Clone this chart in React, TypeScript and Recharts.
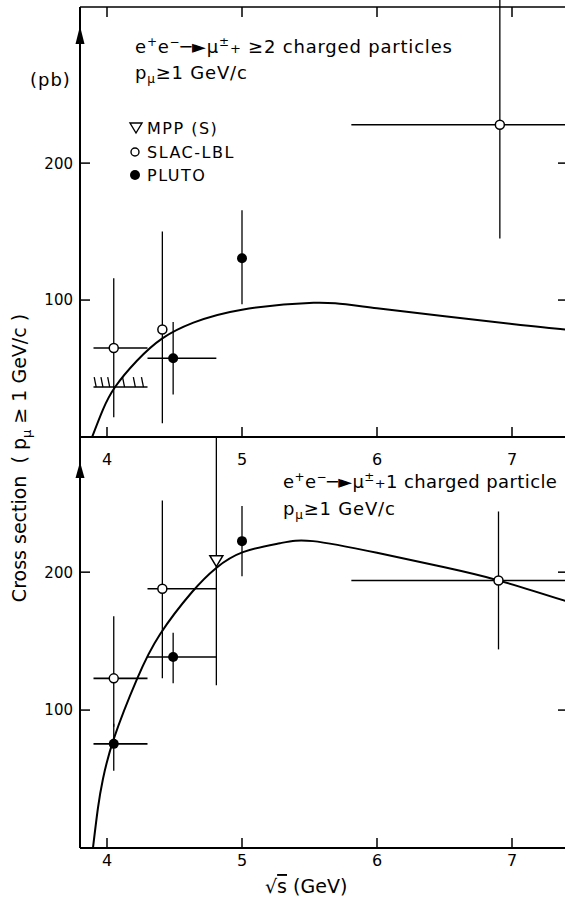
import React from 'react';
import { ComposedChart, Line, Scatter, XAxis, YAxis, ErrorBar } from 'recharts';

const FONT = 'DejaVu Sans';

// model curves, sqrt(s) in GeV vs cross section in pb
const upperCurveX = [3.89, 3.97, 4.06, 4.22, 4.41, 4.64, 5.0, 5.53, 6.0, 7.0, 7.4];
const upperCurveY = [0, 20, 36.5, 55.5, 72, 83.5, 93, 98, 94, 82.5, 78.5];
const lowerCurveX = [3.896, 3.933, 3.97, 4.052, 4.222, 4.393, 4.63, 4.807, 5.007, 5.281, 5.526, 6.0, 6.5, 6.9, 7.4];
const lowerCurveY = [0, 29, 50, 79.7, 122.5, 155, 185.6, 202.9, 214.5, 221, 222.5, 214, 203.5, 194, 179];

// mu + >=2 charged particles
const upSlacX = [4.05, 4.41, 6.91];
const upSlacY = [65, 78.5, 228];
const upSlacErrX = [[0.15, 0.25], [0, 0], [1.1, 1.1]];
const upSlacErrY = [[50.5, 51], [68.5, 71.5], [83, 100]];
const upPlutoX = [4.49, 5.0];
const upPlutoY = [57.5, 130.5];
const upPlutoErrX = [[0.19, 0.32], [0, 0]];
const upPlutoErrY = [[26.5, 26.5], [33.5, 35]];
const upLimitX = [4.05];
const upLimitY = [36.5];
const upLimitErrX = [[0.15, 0.25]];
const upHatchX = [3.92, 3.97, 4.02, 4.13, 4.21, 4.27];

// mu + 1 charged particle
const loSlacX = [4.05, 4.41, 6.9];
const loSlacY = [123, 188, 194];
const loSlacErrX = [[0.15, 0.25], [0.11, 0.4], [1.09, 1.1]];
const loSlacErrY = [[35, 45], [65, 64], [50, 50]];
const loPlutoX = [4.05, 4.49, 5.0];
const loPlutoY = [75.5, 138.5, 222.5];
const loPlutoErrX = [[0.15, 0.25], [0.19, 0.32], [0, 0]];
const loPlutoErrY = [[19.5, 14.5], [19, 17.5], [25.5, 25.5]];
const loMppX = [4.81];
const loMppY = [208];
const loMppErrY = [[90, 100]];

const xMin = 3.8;
const xMax = 7.4;
const xTicks = [4, 5, 6, 7];
const yTicks = [100, 200];

const pts = (xs: number[], ys: number[], ex?: number[][], ey?: number[][]) =>
  xs.map((x, i) => ({ x, y: ys[i], ex: ex ? ex[i] : [0, 0], ey: ey ? ey[i] : [0, 0] }));

const curve = (xs: number[], ys: number[]) => xs.map((x, i) => ({ x, y: ys[i] }));

const OpenCircle = (p: any) => <circle cx={p.cx} cy={p.cy} r={4.5} fill="#fff" stroke="#000" strokeWidth={1.5} />;
const Dot = (p: any) => <circle cx={p.cx} cy={p.cy} r={5} fill="#000" />;
const Triangle = (p: any) => (
  <path
    d={`M${p.cx - 6.5},${p.cy - 5.5}L${p.cx + 6.5},${p.cy - 5.5}L${p.cx},${p.cy + 5.5}Z`}
    fill="#fff"
    stroke="#000"
    strokeWidth={1.5}
  />
);
const Hatch = (p: any) => <line x1={p.cx} y1={p.cy} x2={p.cx - 2} y2={p.cy - 10} stroke="#000" strokeWidth={1.3} />;
const Nothing = () => <g />;
// inward tick marks along the labelled bottom and left edges
const TickUp = (p: any) => <line x1={p.cx} y1={p.cy} x2={p.cx} y2={p.cy - 10} stroke="#000" strokeWidth={1.5} />;
const TickRight = (p: any) => <line x1={p.cx} y1={p.cy} x2={p.cx + 10} y2={p.cy} stroke="#000" strokeWidth={1.5} />;

const bottomLabel = (p: any) => (
  <text x={p.x} y={p.y} dy="0.71em" textAnchor="middle" fontSize={16} fontFamily={FONT} fill="#000">
    {p.payload.value}
  </text>
);
const leftLabel = (p: any) => (
  <text x={p.x} y={p.y} dy="0.36em" textAnchor="end" fontSize={15} fontFamily={FONT} fill="#000">
    {p.payload.value}
  </text>
);

const axisLine = { stroke: '#000', strokeWidth: 2 };
const tickLine = { stroke: '#000', strokeWidth: 1.5 };

const bars = (
  <>
    <ErrorBar dataKey="ey" direction="y" width={0} stroke="#000" strokeWidth={1.3} />
    <ErrorBar dataKey="ex" direction="x" width={0} stroke="#000" strokeWidth={1.6} />
  </>
);

// frame shared by both panels: numeric bottom axis, plain top edge, inward ticks everywhere
const frame = (yMax: number, topHeight: number, bottomHeight: number, labelGap: number, topTicks: boolean) => (
  <>
    <XAxis
      xAxisId="x"
      dataKey="x"
      type="number"
      domain={[xMin, xMax]}
      allowDataOverflow
      ticks={xTicks}
      height={bottomHeight}
      tickSize={0}
      tickMargin={labelGap}
      axisLine={axisLine}
      tickLine={false}
      tick={bottomLabel}
    />
    <XAxis
      xAxisId="xt"
      dataKey="x"
      orientation="top"
      type="number"
      domain={[xMin, xMax]}
      allowDataOverflow
      ticks={xTicks}
      height={topHeight}
      tickSize={-10}
      axisLine={{ stroke: '#000', strokeWidth: 1.5 }}
      tickLine={topTicks ? tickLine : false}
      tick={Nothing}
    />
    <YAxis
      yAxisId="y"
      type="number"
      domain={[0, yMax]}
      allowDataOverflow
      ticks={yTicks}
      width={80}
      tickSize={0}
      tickMargin={7}
      axisLine={axisLine}
      tickLine={false}
      tick={leftLabel}
    />
    <YAxis
      yAxisId="yr"
      orientation="right"
      type="number"
      domain={[0, yMax]}
      allowDataOverflow
      ticks={yTicks}
      width={34}
      tickSize={-8}
      axisLine={axisLine}
      tickLine={tickLine}
      tick={Nothing}
    />
    {/* empty series so the top and right edges get scales for their ticks */}
    <Scatter xAxisId="xt" yAxisId="yr" data={[{ x: 4, y: 0 }]} dataKey="y" shape={Nothing} isAnimationActive={false} />
    <Scatter xAxisId="x" yAxisId="y" data={xTicks.map((t) => ({ x: t, y: 0 }))} dataKey="y" shape={TickUp} isAnimationActive={false} />
    <Scatter xAxisId="x" yAxisId="y" data={yTicks.map((t) => ({ x: xMin, y: t }))} dataKey="y" shape={TickRight} isAnimationActive={false} />
  </>
);

const ids = { xAxisId: 'x', yAxisId: 'y' };

const Reaction = ({ x, y, tail, spacing }: { x: number; y: number; tail: string; spacing: number }) => (
  <text x={x} y={y} fontSize={18} letterSpacing={spacing}>
    e<tspan dy={-7} fontSize={12}>+</tspan>
    <tspan dy={7}>e</tspan>
    <tspan dy={-7} fontSize={12}>−</tspan>
    <tspan dy={7}>─►μ</tspan>
    <tspan dy={-7} fontSize={12}>±</tspan>
    <tspan dy={7} fontSize={13}>+</tspan>
    <tspan>{tail}</tspan>
  </text>
);

const Momentum = ({ x, y }: { x: number; y: number }) => (
  <text x={x} y={y} fontSize={18} letterSpacing={0.8}>
    p<tspan dy={4} fontSize={12}>μ</tspan>
    <tspan dy={-4}>≥1 GeV/c</tspan>
  </text>
);

export default function App() {
  return (
    <div style={{ position: 'absolute', left: 0, top: 0, width: 565, height: 898, overflow: 'hidden', background: '#fff', fontFamily: FONT }}>
      <div style={{ position: 'absolute', left: 0, top: 0 }}>
        <ComposedChart width={600} height={470} margin={{ top: 0, right: 0, bottom: 0, left: 0 }}>
          {frame(314, 7, 33, 17, true)}
          <Line {...ids} data={curve(upperCurveX, upperCurveY)} dataKey="y" type="natural" dot={false} stroke="#000" strokeWidth={2} isAnimationActive={false} />
          <Scatter {...ids} data={pts(upLimitX, upLimitY, upLimitErrX)} dataKey="y" shape={Nothing} isAnimationActive={false}>
            {bars}
          </Scatter>
          <Scatter {...ids} data={pts(upHatchX, upHatchX.map(() => upLimitY[0]))} dataKey="y" shape={Hatch} isAnimationActive={false} />
          <Scatter {...ids} data={pts(upSlacX, upSlacY, upSlacErrX, upSlacErrY)} dataKey="y" shape={OpenCircle} isAnimationActive={false}>
            {bars}
          </Scatter>
          <Scatter {...ids} data={pts(upPlutoX, upPlutoY, upPlutoErrX, upPlutoErrY)} dataKey="y" shape={Dot} isAnimationActive={false}>
            {bars}
          </Scatter>
        </ComposedChart>
      </div>
      {/* lower panel box starts on the shared edge so its bars stop there */}
      <div style={{ position: 'absolute', left: 0, top: 436, width: 600, height: 462, overflow: 'hidden' }}>
        <ComposedChart width={600} height={462} margin={{ top: 0, right: 0, bottom: 0, left: 0 }}>
          {frame(298, 1, 50, 7, false)}
          <Line {...ids} data={curve(lowerCurveX, lowerCurveY)} dataKey="y" type="natural" dot={false} stroke="#000" strokeWidth={2} isAnimationActive={false} />
          <Scatter {...ids} data={pts(loMppX, loMppY, undefined, loMppErrY)} dataKey="y" shape={Triangle} isAnimationActive={false}>
            {bars}
          </Scatter>
          <Scatter {...ids} data={pts(loSlacX, loSlacY, loSlacErrX, loSlacErrY)} dataKey="y" shape={OpenCircle} isAnimationActive={false}>
            {bars}
          </Scatter>
          <Scatter {...ids} data={pts(loPlutoX, loPlutoY, loPlutoErrX, loPlutoErrY)} dataKey="y" shape={Dot} isAnimationActive={false}>
            {bars}
          </Scatter>
        </ComposedChart>
      </div>

      <svg width={565} height={898} style={{ position: 'absolute', left: 0, top: 0, pointerEvents: 'none' }} fontFamily={FONT} fill="#000">
        {/* arrow heads on the vertical axes */}
        <polygon points="80,26 75.5,44 84.5,44" />
        <polygon points="80,462 75.5,478 84.5,478" />

        <text x={30} y={86} fontSize={18} letterSpacing={1}>(pb)</text>
        <text transform="translate(26,458) rotate(-90)" textAnchor="middle" fontSize={19} style={{ whiteSpace: 'pre' }}>
          Cross section  ( p<tspan dy={5} fontSize={13}>μ</tspan>
          <tspan dy={-5}> ≥ 1 GeV/c )</tspan>
        </text>

        <Reaction x={135} y={53} tail=" ≥2 charged particles" spacing={0.8} />
        <Momentum x={135} y={79} />

        <g fontSize={16} letterSpacing={1.5}>
          <path d="M130,123 L142,123 L136,133 Z" fill="#fff" stroke="#000" strokeWidth={1.4} />
          <text x={147} y={134}>MPP (S)</text>
          <circle cx={135} cy={152} r={4} fill="#fff" stroke="#000" strokeWidth={1.4} />
          <text x={147} y={158}>SLAC-LBL</text>
          <circle cx={135} cy={175} r={5} />
          <text x={147} y={181}>PLUTO</text>
        </g>

        <Reaction x={283} y={488} tail="1 charged particle" spacing={0.4} />
        <Momentum x={283} y={515} />

        <text x={265} y={893} fontSize={19}>
          √<tspan textDecoration="overline">s</tspan> (GeV)
        </text>
      </svg>
    </div>
  );
}
